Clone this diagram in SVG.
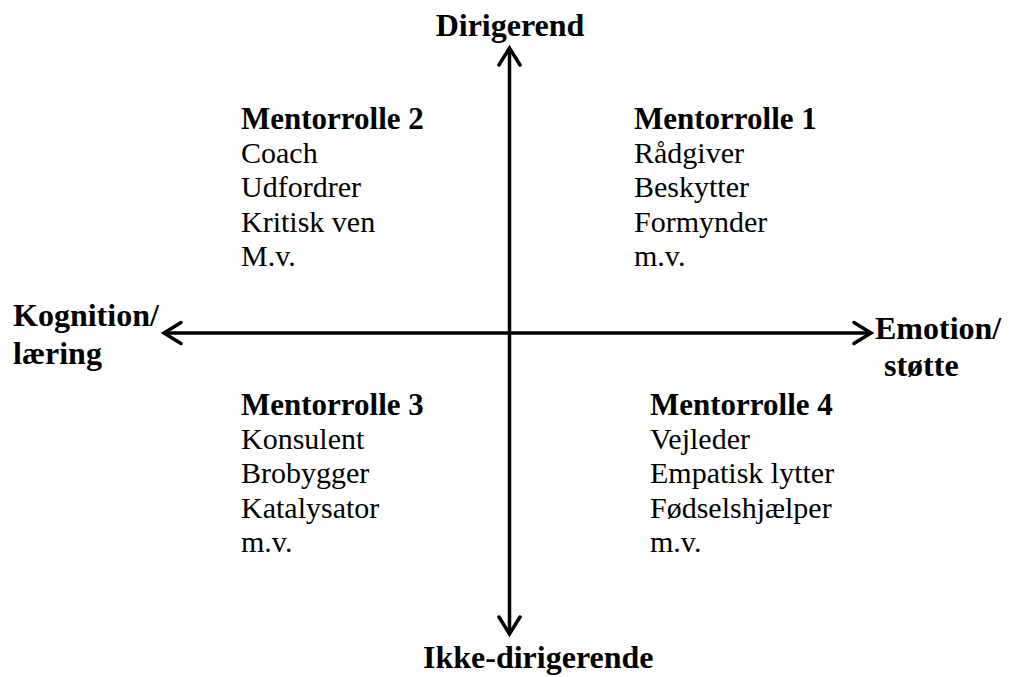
<svg xmlns="http://www.w3.org/2000/svg" width="1011" height="677" viewBox="0 0 1011 677">
<style>
text{font-family:"Liberation Serif","Times New Roman",serif;font-size:30px;fill:#000}
.b{font-weight:bold}
.m{font-size:31px}
.l{font-size:32px}
.ax{stroke:#000;stroke-width:3.5;fill:none}
.hd{stroke:#000;stroke-width:3.5;fill:none;stroke-linecap:round;stroke-linejoin:miter}
</style>
<rect width="1011" height="677" fill="#fff"/>
<g id="connectors">
<line class="ax" x1="509.5" y1="48" x2="509.5" y2="634"/>
<polyline class="hd" points="499,65 509.5,48 520,65"/>
<polyline class="hd" points="499,617 509.5,634 520,617"/>
<line class="ax" x1="164" y1="333" x2="871" y2="333"/>
<polyline class="hd" points="181,322.5 164,333 181,343.5"/>
<polyline class="hd" points="854,322.5 871,333 854,343.5"/>
</g>
<g id="axis-top"><text class="b l" x="510" y="36" text-anchor="middle">Dirigerend</text></g>
<g id="axis-bottom"><text class="b l" x="423" y="668">Ikke-dirigerende</text></g>
<g id="axis-left"><text class="b l" x="13" y="326">Kognition/</text><text class="b l" x="13" y="364">læring</text></g>
<g id="axis-right"><text class="b l" x="875" y="339">Emotion/</text><text class="b l" x="884" y="376">støtte</text></g>
<g id="q2">
<text class="b m" x="241" y="129">Mentorrolle 2</text>
<text x="241" y="163">Coach</text>
<text x="241" y="197">Udfordrer</text>
<text x="241" y="232">Kritisk ven</text>
<text x="241" y="266">M.v.</text>
</g>
<g id="q1">
<text class="b m" x="634" y="129">Mentorrolle 1</text>
<text x="634" y="163">Rådgiver</text>
<text x="634" y="197">Beskytter</text>
<text x="634" y="232">Formynder</text>
<text x="634" y="266">m.v.</text>
</g>
<g id="q3">
<text class="b m" x="241" y="415">Mentorrolle 3</text>
<text x="241" y="449">Konsulent</text>
<text x="241" y="483">Brobygger</text>
<text x="241" y="518">Katalysator</text>
<text x="241" y="552">m.v.</text>
</g>
<g id="q4">
<text class="b m" x="650" y="415">Mentorrolle 4</text>
<text x="650" y="449">Vejleder</text>
<text x="650" y="483">Empatisk lytter</text>
<text x="650" y="518">Fødselshjælper</text>
<text x="650" y="552">m.v.</text>
</g>
</svg>
